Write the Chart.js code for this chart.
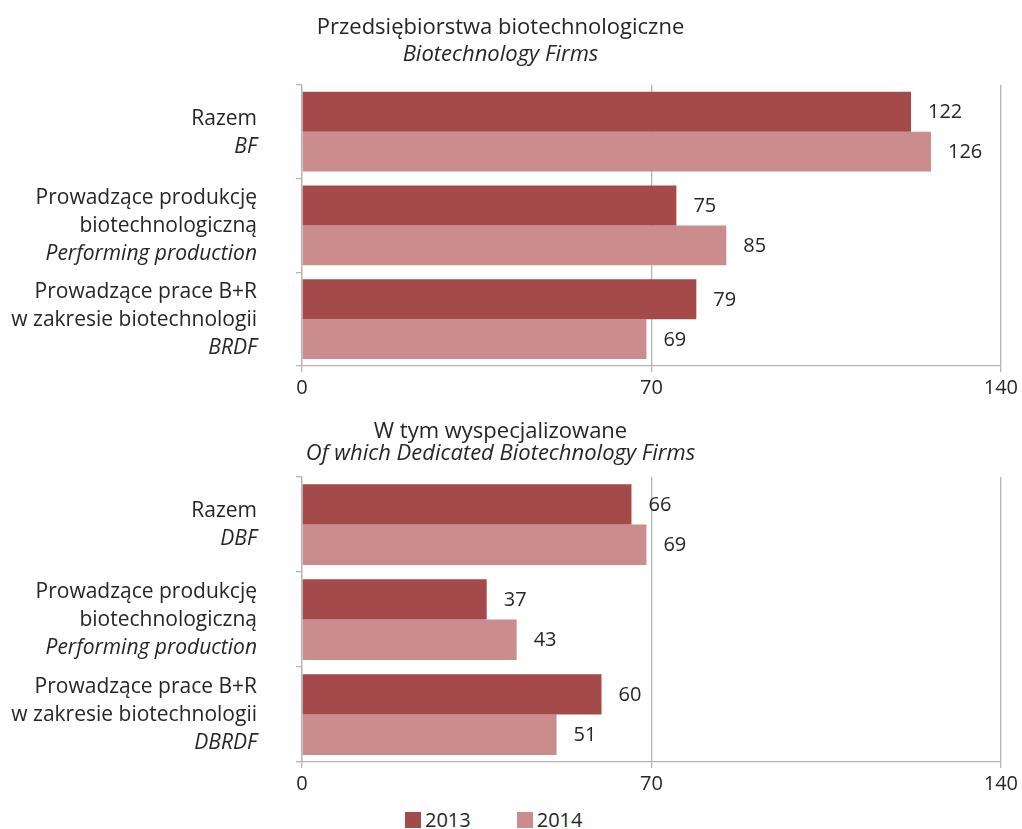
<!DOCTYPE html>
<html lang="pl">
<head>
<meta charset="UTF-8">
<title>Przedsiębiorstwa biotechnologiczne</title>
<script src="https://cdn.jsdelivr.net/npm/chart.js@4.4.1/dist/chart.umd.min.js"></script>
<style>
  body { margin: 0; background: #fff; font-family: "Open Sans", sans-serif; color: #262626; }
  .box { position: absolute; left: 0; width: 1022px; }
  #legend { position: absolute; top: 808px; left: 405px; display: flex; font-size: 20px; line-height: 24px; }
  #legend span.item { display: flex; align-items: center; margin-right: 46px; }
  #legend i { display: inline-block; width: 16px; height: 16px; margin-right: 4px; }
</style>
</head>
<body>
<div class="box" style="top:0;height:404px"><canvas id="c1"></canvas></div>
<div class="box" style="top:400px;height:400px"><canvas id="c2"></canvas></div>
<div id="legend"></div>
<script>
// dane
const years = ['2013', '2014'];
const colors = ['#a54a4a', '#ca8c8c'];
const catsPl = [
    ['Razem'],
    ['Prowadzące produkcję', 'biotechnologiczną'],
    ['Prowadzące prace B+R', 'w zakresie biotechnologii']
];
const catsEnTop = ['BF', 'Performing production', 'BRDF'];
const catsEnBottom = ['DBF', 'Performing production', 'DBRDF'];
const bf2013 = [122, 75, 79];
const bf2014 = [126, 85, 69];
const dbf2013 = [66, 37, 60];
const dbf2014 = [69, 43, 51];
const xTicks = [0, 70, 140];

const FONT = '"Open Sans", sans-serif';
const TXT = '#262626';
const GRID = '#b4b4b4';

// etykiety osi Y: linie polskie + ostatnia kursywą
const yLabels = {
    id: 'yLabels',
    afterDraw(chart, args, opts) {
        const ctx = chart.ctx;
        const y = chart.scales.y;
        const lh = 28;
        ctx.save();
        ctx.fillStyle = TXT;
        ctx.textAlign = 'right';
        ctx.textBaseline = 'middle';
        opts.pl.forEach(function(lines, i) {
            const all = lines.concat([opts.en[i]]);
            const cy = y.getPixelForValue(i) + 1;
            const y0 = cy - (all.length - 1) * lh / 2;
            all.forEach(function(t, k) {
                ctx.font = (k == all.length - 1 ? 'italic ' : '') + '21px ' + FONT;
                ctx.fillText(t, 257, y0 + k * lh);
            });
        });
        ctx.restore();
    }
};

// wartości przy słupkach
const barValues = {
    id: 'barValues',
    afterDatasetsDraw(chart) {
        const ctx = chart.ctx;
        ctx.save();
        ctx.fillStyle = TXT;
        ctx.font = '20px ' + FONT;
        ctx.textAlign = 'left';
        ctx.textBaseline = 'middle';
        chart.data.datasets.forEach(function(ds, d) {
            chart.getDatasetMeta(d).data.forEach(function(bar, i) {
                ctx.fillText(ds.data[i], bar.x + 17, bar.y + 1);
            });
        });
        ctx.restore();
    }
};

var makeChart = function(id, title, subtitle, en, d13, d14, pad, lh) {
    return new Chart(document.getElementById(id), {
        type: 'bar',
        data: {
            labels: catsPl.map(function(c, i) { return i; }),
            datasets: [
                { label: years[0], data: d13, backgroundColor: colors[0] },
                { label: years[1], data: d14, backgroundColor: colors[1] }
            ]
        },
        options: {
            indexAxis: 'y',
            responsive: true,
            maintainAspectRatio: false,
            animation: false,
            layout: { padding: { left: 0, right: 21, top: 0, bottom: 4 } },
            datasets: { bar: { barPercentage: 1, categoryPercentage: 0.85 } },
            plugins: {
                legend: { display: false },
                tooltip: { enabled: false },
                title: {
                    display: true, text: title, color: TXT,
                    font: { family: FONT, size: 22, weight: 'normal', lineHeight: lh },
                    padding: { top: pad[0], bottom: 0 }
                },
                subtitle: {
                    display: true, text: subtitle, color: TXT,
                    font: { family: FONT, size: 22, style: 'italic', lineHeight: lh },
                    padding: { top: 0, bottom: pad[1] }
                },
                yLabels: { pl: catsPl, en: en }
            },
            scales: {
                x: {
                    type: 'linear', min: 0, max: 140,
                    afterBuildTicks: function(s) { s.ticks = xTicks.map(function(v) { return { value: v }; }); },
                    afterFit: function(s) { s.height = 34; },
                    ticks: { color: TXT, font: { family: FONT, size: 20 }, padding: 4 },
                    grid: { color: GRID, tickLength: 6, lineWidth: 1.3 },
                    border: { color: GRID, width: 1.3 }
                },
                y: {
                    afterFit: function(s) { s.width = 302; },
                    ticks: { display: false },
                    grid: { drawOnChartArea: false, color: GRID, tickLength: 6, offset: true, lineWidth: 1.3 },
                    border: { color: GRID, width: 1.3 }
                }
            }
        },
        plugins: [yLabels, barValues]
    });
};

makeChart('c1', 'Przedsiębiorstwa biotechnologiczne', 'Biotechnology Firms', catsEnTop, bf2013, bf2014, [15, 17], 1.2);
makeChart('c2', 'W tym wyspecjalizowane', 'Of which Dedicated Biotechnology Firms', catsEnBottom, dbf2013, dbf2014, [21, 12], 1.0);

// legenda
var lg = document.getElementById('legend');
years.forEach(function(y, i) {
    var s = document.createElement('span');
    s.className = 'item';
    s.innerHTML = '<i style="background:' + colors[i] + '"></i>' + y;
    lg.appendChild(s);
});
</script>
</body>
</html>
